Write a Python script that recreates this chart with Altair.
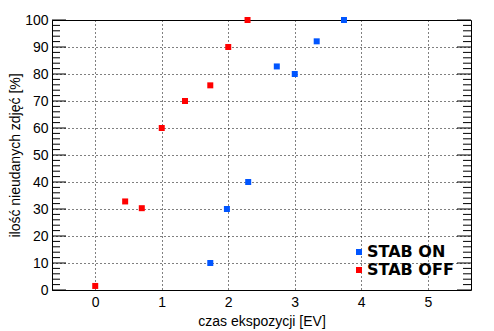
import altair as alt
import pandas as pd

# data
off_x = [0.0, 0.45, 0.70, 1.00, 1.35, 1.73, 2.00, 2.29]
off_y = [1.5, 32.8, 30.3, 60.0, 70.0, 75.8, 90.0, 100.0]
on_x = [1.73, 1.98, 2.30, 2.73, 3.00, 3.33, 3.74]
on_y = [10.0, 30.0, 40.0, 82.8, 80.0, 92.1, 100.0]
series_names = ["STAB ON", "STAB OFF"]
series_colors = ["#0055ff", "#ff0000"]
x_ticks = [0, 1, 2, 3, 4, 5]
y_ticks = [0, 10, 20, 30, 40, 50, 60, 70, 80, 90, 100]
minor_ticks = [v for v in range(0, 101, 2) if v % 10 != 0]

W, H = 419, 270

df = pd.DataFrame(
    {"x": on_x + off_x, "y": on_y + off_y,
     "s": ["STAB ON"] * len(on_x) + ["STAB OFF"] * len(off_x)}
)
major_df = pd.DataFrame({"v": y_ticks})
minor_df = pd.DataFrame({"v": minor_ticks})

xs = alt.Scale(domain=[-0.65, 5.65], nice=False, zero=False)
ys = alt.Scale(domain=[0, 100], nice=False)

FS = 14
y_axis = alt.Axis(values=y_ticks, grid=True, gridDash=[1, 3], gridColor="black",
                  gridOpacity=1, ticks=False, domain=False, labelPadding=4,
                  titlePadding=2, labelOverlap=False, labelFontSize=FS,
                  titleFontSize=FS, titleFontWeight="normal")
y_title = "ilość nieudanych zdjęć [%]"

points = alt.Chart(df).mark_square(size=36, opacity=1).encode(
    x=alt.X("x:Q", scale=xs, title="czas ekspozycji [EV]",
            axis=alt.Axis(values=x_ticks, grid=True, gridDash=[1, 3], gridColor="black",
                          gridOpacity=1, ticks=False, domain=False, labelPadding=5,
                          titlePadding=5, labelOverlap=False, labelFontSize=FS,
                          titleFontSize=FS, titleFontWeight="normal")),
    y=alt.Y("y:Q", scale=ys, title=y_title, axis=y_axis),
    color=alt.Color("s:N", scale=alt.Scale(domain=series_names, range=series_colors),
                    legend=alt.Legend(title=None, orient="none", legendX=299, legendY=224,
                                      symbolType="square", symbolSize=36, symbolStrokeWidth=0,
                                      labelFont="DejaVu Sans", labelFontWeight="bold",
                                      labelFontSize=16, labelColor="black", labelOffset=0,
                                      rowPadding=2, padding=0)),
)

def rules(d, x0, x1):
    return alt.Chart(d).mark_rule(color="black", strokeWidth=1).encode(
        y=alt.Y("v:Q", scale=ys, title=y_title, axis=y_axis),
        x=alt.value(x0), x2=alt.value(x1))

layers = [
    points,
    rules(major_df, 0, 14), rules(minor_df, 0, 8),
    rules(major_df, W - 14, W), rules(minor_df, W - 8, W),
]

chart = alt.layer(*layers).properties(
    width=W, height=H,
    autosize=alt.AutoSizeParams(type="none"),
    padding={"left": 44, "top": 12, "right": 15, "bottom": 41},
    background="white",
).configure_view(stroke="black", strokeWidth=1).configure_axis(
    labelFont="Liberation Sans", titleFont="Liberation Sans", labelFontSize=FS,
    titleFontSize=FS, labelColor="black", titleColor="black", titleFontWeight="normal"
)

chart.save("out.html", embed_options={"renderer": "svg", "actions": False})
